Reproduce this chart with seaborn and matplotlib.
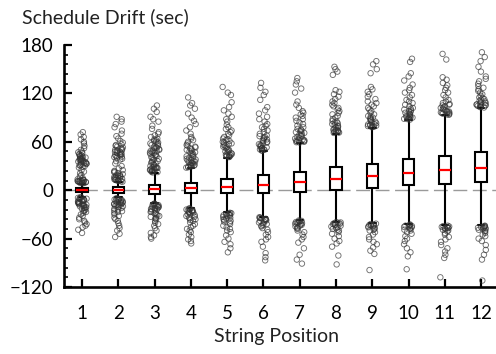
import numpy as np
import pandas as pd
import matplotlib
matplotlib.use("Agg")
import matplotlib.pyplot as plt
import seaborn as sns
from matplotlib.ticker import MultipleLocator, NullLocator

# ---------------- data (seconds) ----------------
positions = ["1", "2", "3", "4", "5", "6", "7", "8", "9", "10", "11", "12"]
whisker_low = [-8, -9, -16, -22, -27, -33, -37, -39, -41, -42, -43.5, -43.5]
q1 = [-2, -3.5, -5, -4, -4, -3, -2, 0, 3, 6, 8, 10]
median = [0, 0, 1, 2.5, 4, 7, 10, 14, 18, 21.5, 25, 28]
q3 = [2.5, 3.5, 6, 9.5, 14, 19, 23, 29, 33, 38.5, 42.5, 47]
whisker_high = [8, 10, 21, 27, 40, 48, 58, 70, 77, 87, 93, 102]

out_p1 = [8.5, 9, 9, 9.5, 10, 10, 10.5, 10.5, 11, 11, 11.5, 11.5, 12, 12, 12.5, 13, 13.5,
          15, 17, 19, 21, 23, 25, 28,
          29, 30, 30.5, 31, 32, 32.5, 33, 33.5, 34, 34.5, 35, 35.5, 36, 36.5, 37, 37.5, 38,
          38.5, 39, 39.5, 40, 40.5, 41, 42, 42.5, 43, 44, 45, 46, 47, 48,
          50, 52, 55, 58, 60, 63, 66, 69, 72,
          -8.5, -9, -9.5, -10, -10.5, -11, -11.5, -12, -12.5, -13, -13.5, -14, -14.5, -15,
          -15.5, -16, -16.5, -17, -17.5, -18, -18.5, -19, -19.5, -20, -21, -21.5, -22, -23,
          -24, -25, -26, -27, -28,
          -30, -32, -34, -36, -38, -40, -42, -44, -46, -49, -53]
out_p2 = [10.5, 11, 11.5, 12, 12.5, 13, 13.5, 14, 14.5, 15, 15.5, 16, 16.5, 17, 17.5, 18,
          18.5, 19, 20, 21, 22, 23, 24, 25,
          27, 30, 33, 36,
          38, 39, 40, 41, 41.5, 42, 43, 43.5, 44, 45, 45.5, 46, 47, 47.5, 48, 49, 49.5, 50,
          51, 52, 53, 54, 55, 56, 57, 59, 61,
          64, 67, 70, 74, 78, 82, 85, 88, 91,
          -10, -10.5, -11, -11.5, -12, -12.5, -13, -13.5, -14, -14.5, -15, -15.5, -16, -16.5,
          -17, -17.5, -18, -18.5, -19, -19.5, -20, -21, -22, -23, -24, -25, -26, -27, -28,
          -30, -32,
          -34, -36, -38, -41, -44, -47, -50, -54, -58]
out_p3 = [22, 22.5, 23, 23.5, 24, 24.5, 25, 25.5, 26, 26.5, 27, 27.5, 28, 28.5, 29, 30, 31,
          32, 33, 34, 35, 36,
          37, 38, 39, 40, 41, 42, 43, 44, 45, 46, 46.5, 47, 48, 48.5, 49, 50, 51, 52, 52.5,
          53, 54, 55, 56, 57, 58, 59, 60, 61, 62, 63, 64, 66, 68, 70, 72,
          76, 80, 85, 88, 91, 97, 101, 105,
          -16.5, -17, -17.5, -18, -18.5, -19, -19.5, -20, -20.5, -21, -21.5, -22, -22.5, -23,
          -23.5, -24, -25, -26, -27, -28, -29, -30, -31, -32, -33, -34, -35, -36, -38,
          -40, -42, -44, -47, -50, -53, -56, -58, -60]
out_p4 = [28, 28.5, 29, 29.5, 30, 30.5, 31, 31.5, 32, 33, 33.5, 34, 35, 35.5, 36, 37, 37.5,
          38, 39, 40, 41, 42, 43, 44, 45, 46, 47, 48, 49, 50, 51, 52, 53, 54, 55, 56, 58,
          60, 62, 64, 66,
          70, 74, 78, 82, 86, 90, 95, 101, 105, 108, 115,
          -22.5, -23, -23.5, -24, -24.5, -25, -25.5, -26, -26.5, -27, -27.5, -28, -29, -30,
          -31, -32, -33, -34, -35, -36, -37, -38, -40, -42, -44, -46, -48, -50,
          -52, -55, -58, -61, -63, -66]
out_p5 = [41, 41.5, 42, 42.5, 43, 43.5, 44, 44.5, 45, 46, 47, 48, 49, 50, 51, 52, 53, 54,
          55, 56, 57, 58, 59, 60, 61, 62, 63, 64, 66, 68, 70, 72, 74, 76, 78, 81, 85,
          88, 91, 95, 99, 103, 109, 118, 121, 128,
          -28, -28.5, -29, -29.5, -30, -30.5, -31, -31.5, -32, -33, -34, -35, -36, -37, -38,
          -39, -40, -42, -44, -46, -48, -50, -52,
          -56, -60, -64, -67, -72, -77]
out_p6 = [49, 49.5, 50, 50.5, 51, 51.5, 52, 52.5, 53, 54, 55, 56, 57, 58, 59, 60, 61, 62,
          63, 64, 65, 66, 67, 68, 70, 72, 74, 76, 78, 80, 82, 85, 88, 91, 95,
          99, 103, 112, 118, 122, 127, 133,
          -33.5, -34, -34.5, -35, -35.5, -36, -36.5, -37, -37.5, -38, -39, -40, -41, -42,
          -43, -44, -45, -47, -49, -52,
          -55, -58, -61, -64, -70, -78, -83, -87]
out_p7 = [59, 59.5, 60, 60.5, 61, 61.5, 62, 62.5, 63, 64, 65, 66, 67, 68, 69, 70, 71, 72,
          73, 74, 75, 76, 78, 80, 82, 84, 86, 88, 90, 92, 94, 96, 98,
          102, 106, 110, 121, 126, 131, 135, 139,
          -37.5, -38, -38.5, -39, -39.5, -40, -40.5, -41, -41.5, -42, -43, -44, -45, -46,
          -47, -48, -50, -52, -55, -58, -61,
          -65, -72, -80, -86, -91]
out_p8 = [71, 71.5, 72, 72.5, 73, 73.5, 74, 74.5, 75, 76, 77, 78, 79, 80, 81, 82, 83, 84,
          85, 86, 88, 90, 92, 94, 96,
          98, 100, 102, 104, 106, 108, 110, 113, 116, 119, 122, 124,
          143, 147, 150, 153,
          -39.5, -40, -40.5, -41, -41.5, -42, -42.5, -43, -44, -45, -46, -47, -48, -49, -50,
          -52,
          -54, -57, -60, -63, -66, -70, -81, -92]
out_p9 = [78, 78.5, 79, 79.5, 80, 80.5, 81, 81.5, 82, 83, 84, 85, 86, 87, 88, 89, 90, 91,
          92, 94, 96, 98, 100, 102,
          104, 106, 108, 110, 113, 116, 119, 122, 125, 128,
          145, 150, 156, 160,
          -41.5, -42, -42.5, -43, -43.5, -44, -44.5, -45, -46, -47, -48, -49, -50, -52,
          -55, -58, -61, -64, -67, -71, -75, -79, -99]
out_p10 = [87.5, 88, 88.5, 89, 89.5, 90, 90.5, 91, 91.5, 92, 93, 94, 95, 96, 97, 98, 99,
           100, 101, 102,
           104, 106, 108, 110, 112, 115, 118, 121, 124, 127,
           131, 136, 141, 145, 159, 163,
           -42.5, -43, -43.5, -44, -44.5, -45, -45.5, -46, -47, -48, -49, -50, -52, -54,
           -57, -60, -63,
           -67, -72, -77, -82, -98]
out_p11 = [93.5, 94, 94.5, 95, 95.5, 96, 96.5, 97, 97.5, 98, 99, 100, 101, 102, 103, 104,
           105, 106, 107, 108,
           110, 112, 115, 118, 121, 124, 127, 130, 133, 137, 140,
           162, 169,
           -44, -44.5, -45, -45.5, -46, -46.5, -47, -47.5, -48, -49, -50, -51, -53, -55,
           -58, -61, -64,
           -68, -72, -76, -80, -84, -108]
out_p12 = [102.5, 103, 103.5, 104, 104.5, 105, 105.5, 106, 106.5, 107, 108, 109, 110, 111,
           112, 113, 114,
           115, 117, 119, 121, 123, 125, 127, 129, 132, 135, 138, 141,
           147, 153, 160, 165, 171,
           -44, -44.5, -45, -45.5, -46, -46.5, -47, -47.5, -48, -49, -50, -51, -53, -55,
           -57, -60, -63,
           -68, -74, -80, -86, -112]

outliers = [out_p1, out_p2, out_p3, out_p4, out_p5, out_p6,
            out_p7, out_p8, out_p9, out_p10, out_p11, out_p12]

# ---------------- tables ----------------
box_rows = []
for i, p in enumerate(positions):
    for v in (whisker_low[i], q1[i], median[i], q3[i], whisker_high[i]):
        box_rows.append((p, v))
df_box = pd.DataFrame(box_rows, columns=["pos", "val"])

pt_rows = []
for p, vals in zip(positions, outliers):
    for v in vals:
        pt_rows.append((p, v))
df_pts = pd.DataFrame(pt_rows, columns=["pos", "val"])

# ---------------- style ----------------
sns.set_style("ticks")
plt.rcParams["font.family"] = ["Lato", "DejaVu Sans"]
plt.rcParams["axes.unicode_minus"] = True

fig = plt.figure(figsize=(4.96, 3.54), dpi=100)
ax = fig.add_axes([64 / 496, 1 - 287 / 354, 432 / 496, 242 / 354])

ax.axhline(0, color="#9a9a9a", lw=1.0, dashes=(10, 4), zorder=0)

sns.boxplot(data=df_box, x="pos", y="val", order=positions, whis=(0, 100),
            width=0.32, color="white", linecolor="black", linewidth=1.5,
            showfliers=False, capwidths=0.18,
            medianprops=dict(color="#ff0000", linewidth=1.6), ax=ax)

np.random.seed(3)
sns.stripplot(data=df_pts, x="pos", y="val", order=positions, jitter=0.13,
              size=3.9, facecolor="none", edgecolor=(0.2, 0.2, 0.2, 0.7),
              linewidth=0.65, ax=ax, zorder=3)

ax.set_xlim(-0.5, 11.41)
ax.set_ylim(-120, 180)
ax.yaxis.set_major_locator(MultipleLocator(60))
ax.yaxis.set_minor_locator(MultipleLocator(12))
ax.xaxis.set_minor_locator(NullLocator())
ax.set_xlabel("")
ax.set_ylabel("")

for s in ("top", "right"):
    ax.spines[s].set_visible(False)
for s in ("left", "bottom"):
    ax.spines[s].set_linewidth(1.9)
    ax.spines[s].set_color("black")

ax.tick_params(axis="both", which="major", direction="in", length=6, width=1.6,
               labelsize=13.5, colors="black")
ax.tick_params(axis="both", which="minor", direction="in", length=3, width=1.4)
ax.tick_params(axis="x", pad=13)
ax.tick_params(axis="y", pad=8)

fig.text(21.5 / 496, 1 - 22.7 / 354, "Schedule Drift (sec)", fontsize=14,
         ha="left", va="baseline", color="#222222")
fig.text(277 / 496, 1 - 342 / 354, "String Position", fontsize=14,
         ha="center", va="baseline", color="#222222")

fig.savefig("out.png", dpi=100)
